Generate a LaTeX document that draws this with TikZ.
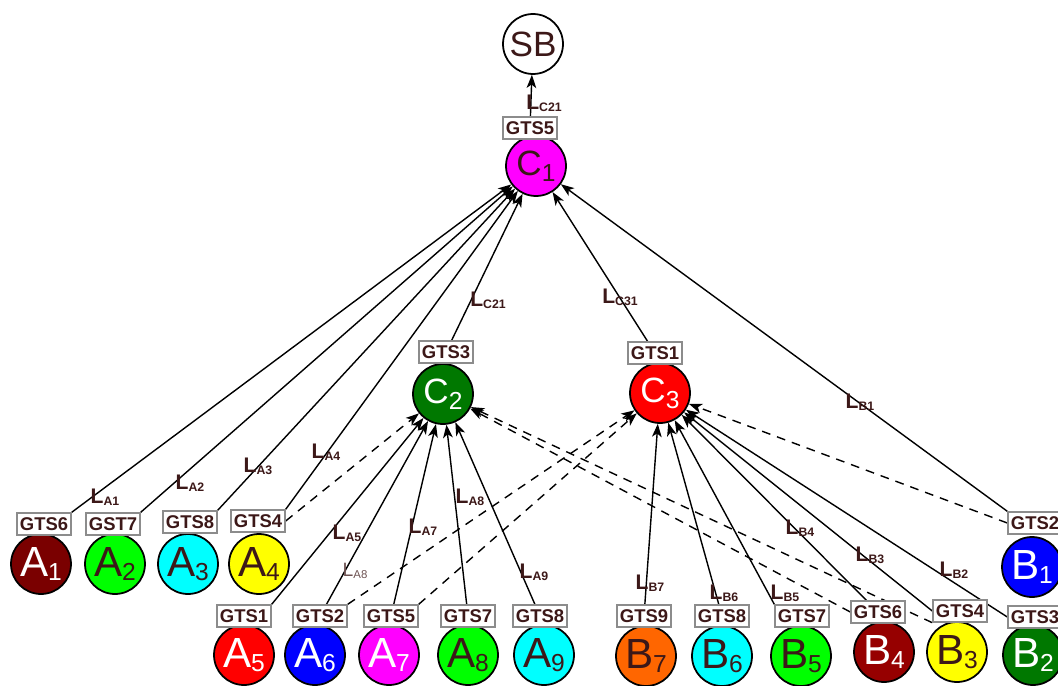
\documentclass[tikz,border=0pt]{standalone}
\usepackage{fontspec}
\setmainfont{Liberation Sans}
\usetikzlibrary{backgrounds,arrows.meta}

\definecolor{txt}{RGB}{60,24,24}
\definecolor{boxgray}{RGB}{140,140,140}
\definecolor{maroonA}{RGB}{122,0,0}
\definecolor{maroonB}{RGB}{150,0,0}
\definecolor{limeG}{RGB}{0,255,0}
\definecolor{darkG}{RGB}{0,120,0}
\definecolor{orangeB}{RGB}{255,102,0}
\definecolor{cyanC}{RGB}{0,255,255}
\definecolor{magentaM}{RGB}{255,0,255}
\definecolor{redR}{RGB}{255,0,0}
\definecolor{blueB}{RGB}{0,0,255}
\definecolor{yellowY}{RGB}{255,255,0}

% circle text: letter with lowered index
\newcommand\nlab[2]{{\fontsize{24}{24}\selectfont #1}\raisebox{-2.5pt}{\fontsize{14}{14}\selectfont #2}}
\newcommand\clab[2]{{\fontsize{20}{20}\selectfont #1}\raisebox{-3.5pt}{\fontsize{14}{14}\selectfont #2}}
% link label L_xx
\newcommand\elab[1]{{\fontsize{12}{12}\selectfont\bfseries L}\raisebox{-1pt}{\fontsize{7}{7}\selectfont\bfseries #1}}

\tikzset{
  stn/.style={circle,draw=black,line width=1pt,minimum size=1.2cm,inner sep=0pt,text=txt},
  wtxt/.style={text=white},
  gts/.style={draw=boxgray,line width=0.8pt,fill=white,text=txt,inner sep=1pt,
    minimum width=1.08cm,minimum height=0.44cm,font=\fontsize{10.5}{10.5}\selectfont\bfseries},
  elbl/.style={text=txt,inner sep=0pt},
  lnk/.style={->,line width=0.8pt},
  alt/.style={->,line width=0.8pt,dash pattern=on 5pt off 4pt},
}

\begin{document}
\begin{tikzpicture}[>={Stealth[length=7.5pt,width=5.5pt,inset=2pt]}, x=0.02cm, y=-0.02cm]
\useasboundingbox (0,0) rectangle (1058,686);

%==== top ====
\node[stn,fill=white] (SB) at (533,44){\fontsize{20}{20}\selectfont SB};
\node[stn,fill=magentaM] (C1) at (536,166){\clab{C}{1}};
\node[gts] (gC1) at (530,128){GTS5};

%==== clusters ====
\node[stn,fill=darkG,wtxt] (C2) at (443,394){\clab{C}{2}};
\node[gts] (gC2) at (446,352){GTS3};
\node[stn,fill=redR,wtxt] (C3) at (660,393){\clab{C}{3}};
\node[gts] (gC3) at (655,353){GTS1};

%==== A nodes ====
\node[stn,fill=maroonA,wtxt] (A1) at (41,564){\nlab{A}{1}};
\node[gts] (gA1) at (44,524){GTS6};
\node[stn,fill=limeG] (A2) at (115,564){\nlab{A}{2}};
\node[gts] (gA2) at (113,524){GST7};
\node[stn,fill=cyanC] (A3) at (188,564){\nlab{A}{3}};
\node[gts] (gA3) at (190,522){GTS8};
\node[stn,fill=yellowY] (A4) at (259,564){\nlab{A}{4}};
\node[gts] (gA4) at (258,521){GTS4};

\node[stn,fill=redR,wtxt] (A5) at (244,655){\nlab{A}{5}};
\node[gts] (gA5) at (244,616){GTS1};
\node[stn,fill=blueB,wtxt] (A6) at (315,655){\nlab{A}{6}};
\node[gts] (gA6) at (320,616){GTS2};
\node[stn,fill=magentaM,wtxt] (A7) at (389,655){\nlab{A}{7}};
\node[gts] (gA7) at (391,616){GTS5};
\node[stn,fill=limeG] (A8) at (468,655){\nlab{A}{8}};
\node[gts] (gA8) at (468,616){GTS7};
\node[stn,fill=cyanC] (A9) at (544,655){\nlab{A}{9}};
\node[gts] (gA9) at (540,616){GTS8};

%==== B nodes ====
\node[stn,fill=orangeB] (B7) at (646,656){\nlab{B}{7}};
\node[gts] (gB7) at (644,616){GTS9};
\node[stn,fill=cyanC] (B6) at (722,656){\nlab{B}{6}};
\node[gts] (gB6) at (722,616){GTS8};
\node[stn,fill=limeG] (B5) at (801,656){\nlab{B}{5}};
\node[gts] (gB5) at (802,616){GTS7};
\node[stn,fill=maroonB,wtxt] (B4) at (884,652){\nlab{B}{4}};
\node[gts] (gB4) at (878,612){GTS6};
\node[stn,fill=yellowY] (B3) at (957,652){\nlab{B}{3}};
\node[gts] (gB3) at (960,611){GTS4};
\node[stn,fill=darkG,wtxt] (B2) at (1033,655){\nlab{B}{2}};
\node[gts] (gB2) at (1035,617){GTS3};
\node[stn,fill=blueB,wtxt] (B1) at (1032,567){\nlab{B}{1}};
\node[gts] (gB1) at (1035,523){GTS2};

%==== links ====
\begin{scope}[on background layer]
  \draw[lnk] (gC1) -- (SB);
  \draw[lnk] (gC2) -- (C1);
  \draw[lnk] (gC3) -- (C1);
  \draw[lnk] (gA1.north east) -- (C1);
  \draw[lnk] (gA2.north east) -- (C1);
  \draw[lnk] (gA3.north east) -- (C1);
  \draw[lnk] (gA4.north east) -- (C1);
  \draw[lnk] (gB1.north west) -- (C1);
  % to C2
  \draw[lnk] (gA5.north east) -- (C2);
  \draw[lnk] (gA6) -- (C2);
  \draw[lnk] (gA7) -- (C2);
  \draw[lnk] (gA8) -- (C2);
  \draw[lnk] (gA9) -- (C2);
  % to C3
  \draw[lnk] (gB7) -- (C3);
  \draw[lnk] (gB6) -- (C3);
  \draw[lnk] (gB5.north west) -- (C3);
  \draw[lnk] (gB4) -- (C3);
  \draw[lnk] (gB3.west) -- (C3);
  \draw[lnk] (gB2.west) -- (C3);
  % backup links (dashed)
  \draw[alt] (gA4.east) -- (C2);
  \draw[alt] (gB4.west) -- (C2);
  \draw[alt] (gB3.south west) -- (C2);
  \draw[alt] (gA6.north east) -- (C3);
  \draw[alt] (gA7.north east) -- (C3);
  \draw[alt] (gB1.west) -- (C3);
\end{scope}

%==== link labels ====
\node[elbl] (lC1) at (544,103){\elab{C21}};
\node[elbl] (lC2) at (488,300){\elab{C21}};
\node[elbl] (lC3) at (620,297){\elab{C31}};
\node[elbl] (lA1) at (105,497){\elab{A1}};
\node[elbl] (lA2) at (190,483){\elab{A2}};
\node[elbl] (lA3) at (258,466){\elab{A3}};
\node[elbl] (lA4) at (326,452){\elab{A4}};
\node[elbl] (lA5) at (347,533){\elab{A5}};
\node[elbl,text=txt!75] (lA6) at (355,571){{\fontsize{11}{11}\selectfont L}\raisebox{-1pt}{\fontsize{6.5}{6.5}\selectfont A8}};
\node[elbl] (lA7) at (423,527){\elab{A7}};
\node[elbl] (lA8) at (470,497){\elab{A8}};
\node[elbl] (lA9) at (534,572){\elab{A9}};
\node[elbl] (lB1) at (860,402){\elab{B1}};
\node[elbl] (lB2) at (954,570){\elab{B2}};
\node[elbl] (lB3) at (870,555){\elab{B3}};
\node[elbl] (lB4) at (800,528){\elab{B4}};
\node[elbl] (lB5) at (785,593){\elab{B5}};
\node[elbl] (lB6) at (724,593){\elab{B6}};
\node[elbl] (lB7) at (650,583){\elab{B7}};

\end{tikzpicture}
\end{document}
